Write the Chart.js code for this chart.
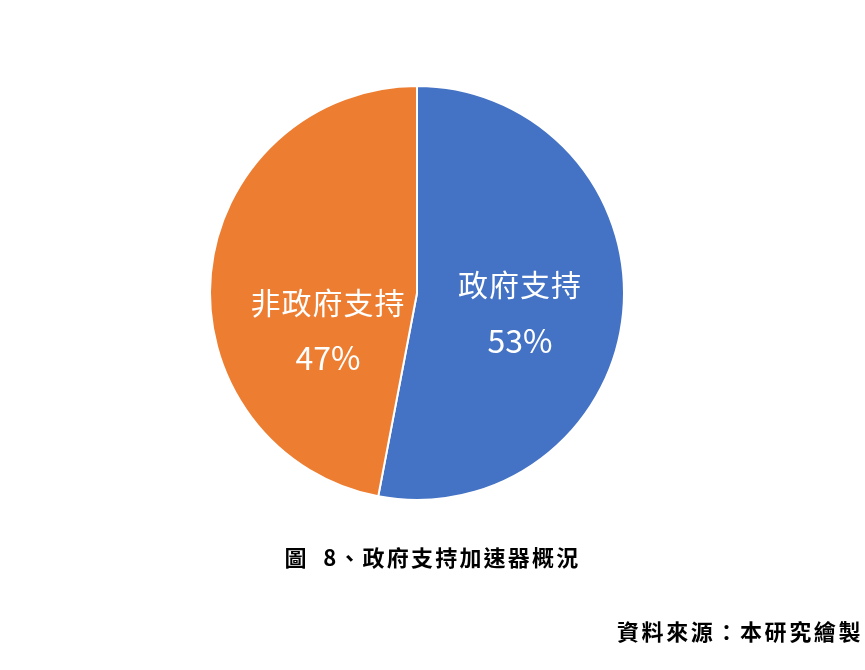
<!DOCTYPE html>
<html>
<head>
<meta charset="utf-8">
<script src="https://cdn.jsdelivr.net/npm/chart.js@4"></script>
<style>
html,body{margin:0;padding:0;background:#fff;}
#wrap{position:relative;width:865px;height:670px;}
#pieChart{position:absolute;left:0;top:0;}
.cap{position:absolute;font-family:"Noto Sans CJK TC",sans-serif;font-weight:bold;font-size:22px;color:#000;white-space:nowrap;line-height:1;}
#caption{left:0;width:865px;top:545px;text-align:center;letter-spacing:2.2px;}
#source{right:2px;top:619px;letter-spacing:2.6px;}
</style>
</head>
<body>
<div id="wrap">
<canvas id="pieChart" width="865" height="670"></canvas>
<div class="cap" id="caption">圖&nbsp;&nbsp;8、政府支持加速器概況</div>
<div class="cap" id="source">資料來源：本研究繪製</div>
</div>
<script>

const categories = ["政府支持","非政府支持"]
const shares = [53,47]
const sliceColors = ["#4472C4","#ED7D31"]

// label block offsets from each arc's centroid (px)
const labelShift = [{dx:0,dy:-18},{dx:14,dy:19}]

const sliceLabels = {
id:"sliceLabels",
afterDatasetsDraw(chart){
const ctx = chart.ctx
const arcs = chart.getDatasetMeta(0).data
ctx.save()
ctx.fillStyle = "#fff"
ctx.textAlign = "center"
ctx.textBaseline = "middle"
arcs.forEach((arc,i)=>{
const p = arc.getCenterPoint()
const x = p.x + labelShift[i].dx
const y = p.y + labelShift[i].dy
ctx.font = '30px "Noto Sans CJK TC", sans-serif'
ctx.letterSpacing = "1px"
ctx.fillText(categories[i], x, y)
ctx.font = '32px "Noto Sans CJK TC", sans-serif'
ctx.letterSpacing = "0px"
ctx.fillText(shares[i]+"%", x, y+56)
})
ctx.restore()
}
}

new Chart(document.getElementById("pieChart"),{
type:"pie",
data:{
labels:categories,
datasets:[{
data:shares,
backgroundColor:sliceColors,
borderColor:"#fff",
borderWidth:2,
hoverOffset:0
}]
},
options:{
responsive:false,
animation:false,
layout:{padding:{left:209,right:240,top:85,bottom:169}},
plugins:{legend:{display:false},tooltip:{enabled:false}}
},
plugins:[sliceLabels]
})

</script>
</body>
</html>
